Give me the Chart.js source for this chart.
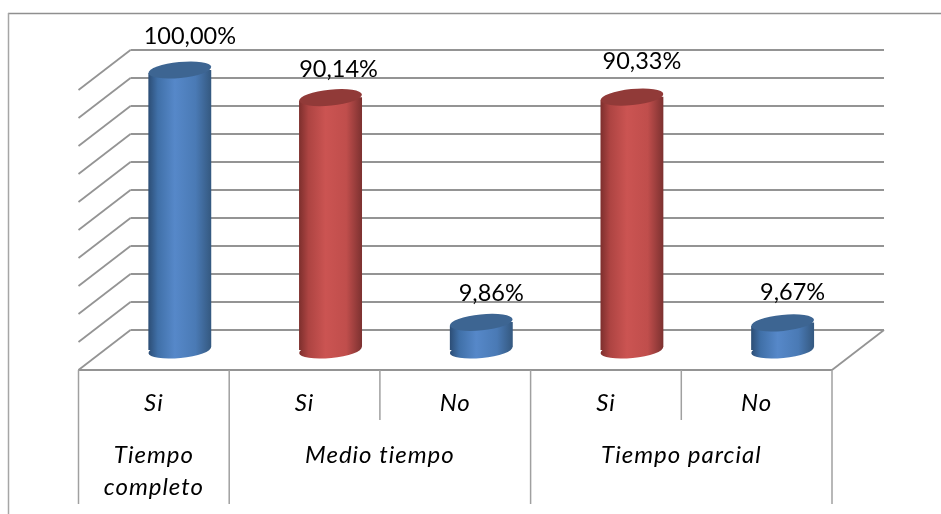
<!DOCTYPE html>
<html>
<head>
<meta charset="utf-8">
<style>
  html, body { margin: 0; background: #fff; }
  #wrap { width: 941px; height: 514px; }
</style>
<script src="https://cdn.jsdelivr.net/npm/chart.js@4"></script>
</head>
<body>
<div id="wrap"><canvas id="chart" width="941" height="514"></canvas></div>
<script>
const categories = ['Si', 'Si', 'No', 'Si', 'No'];
const groupLabels = [['Tiempo', 'completo'], ['Medio tiempo'], ['Tiempo parcial']];
const groupSpans = [1, 2, 2];
const values = [100.00, 90.14, 9.86, 90.33, 9.67];
const valueLabels = ['100,00%', '90,14%', '9,86%', '90,33%', '9,67%'];
const barPalette = ['blue', 'red', 'blue', 'red', 'blue'];
const yTicks = [0, 10, 20, 30, 40, 50, 60, 70, 80, 90, 100];

// the bars stand halfway between the front edge of the floor and the back wall
const DEPTH_X = 26, DEPTH_Y = 20;
const GRID = '#949494';
const FONT = 'Lato, "Open Sans", sans-serif';
const BAR_WIDTH = 63;
const CAP_RY = 8, CAP_TILT = -0.1;
// hand placed labels in the original
const labelShift = [[10, -26], [8, -21], [10, -21], [10, -28], [10, -23]];

const colors = {
  blue: { stops: ['#2c4d75', '#4070a8', '#5688c9', '#4a7ab5', '#34587f'], top: '#3d6592' },
  red: { stops: ['#7d2f2d', '#ad4442', '#cb5452', '#c04e4c', '#7c3130'], top: '#913a38' }
};
const stopAt = [0, 0.15, 0.42, 0.75, 1];

function sideGradient(ctx, cx, c) {
  const gr = ctx.createLinearGradient(cx - BAR_WIDTH / 2, 0, cx + BAR_WIDTH / 2, 0);
  c.stops.forEach((s, i) => gr.addColorStop(stopAt[i], s));
  return gr;
}

function line(ctx, x1, y1, x2, y2) {
  ctx.beginPath();
  ctx.moveTo(x1, y1);
  ctx.lineTo(x2, y2);
  ctx.stroke();
}

const walls = {
  id: 'walls',
  beforeDatasetsDraw(chart) {
    const { ctx, chartArea: a, scales: { y } } = chart;
    ctx.save();
    ctx.lineWidth = 1.5;
    // outer frame
    ctx.strokeStyle = '#8f8f8f';
    line(ctx, 8, 13.5, 941, 13.5);
    ctx.strokeStyle = '#a6a6a6';
    line(ctx, 8.5, 13, 8.5, 514);
    ctx.lineWidth = 1.8;
    ctx.strokeStyle = GRID;
    yTicks.forEach(t => {
      const py = y.getPixelForValue(t);
      line(ctx, a.left - DEPTH_X, py + DEPTH_Y, a.left + DEPTH_X, py - DEPTH_Y);
      line(ctx, a.left + DEPTH_X, py - DEPTH_Y, a.right + DEPTH_X, py - DEPTH_Y);
    });
    // floor
    const py0 = y.getPixelForValue(0) + DEPTH_Y;
    line(ctx, a.left - DEPTH_X, py0, a.right - DEPTH_X, py0);
    line(ctx, a.right - DEPTH_X, py0, a.right + DEPTH_X, py0 - 2 * DEPTH_Y);

    // bottom caps go under the bars
    chart.getDatasetMeta(0).data.forEach((bar, i) => {
      ctx.fillStyle = sideGradient(ctx, bar.x, colors[barPalette[i]]);
      ctx.beginPath();
      ctx.ellipse(bar.x, bar.base, bar.width / 2, CAP_RY, CAP_TILT, 0, Math.PI * 2);
      ctx.fill();
    });
    ctx.restore();
  }
};

const cylinders = {
  id: 'cylinders',
  // cut the square bar corners along the tilt of the caps
  beforeDatasetDraw(chart, args) {
    const { ctx } = chart;
    const lift = BAR_WIDTH / 2 * Math.sin(-CAP_TILT);
    ctx.save();
    ctx.beginPath();
    chart.getDatasetMeta(args.index).data.forEach(bar => {
      const l = bar.x - bar.width / 2, r = bar.x + bar.width / 2;
      ctx.moveTo(l, bar.y + lift);
      ctx.lineTo(r, bar.y - lift);
      ctx.lineTo(r, bar.base - lift);
      ctx.lineTo(l, bar.base + lift);
      ctx.closePath();
    });
    ctx.clip();
  },
  afterDatasetDraw(chart) {
    chart.ctx.restore();
  },
  afterDatasetsDraw(chart) {
    const { ctx } = chart;
    chart.getDatasetMeta(0).data.forEach((bar, i) => {
      ctx.fillStyle = colors[barPalette[i]].top;
      ctx.beginPath();
      ctx.ellipse(bar.x, bar.y, bar.width / 2, CAP_RY, CAP_TILT, 0, Math.PI * 2);
      ctx.fill();
    });
  }
};

const texts = {
  id: 'texts',
  afterDraw(chart) {
    const { ctx, chartArea: a, scales: { x, y } } = chart;
    const bars = chart.getDatasetMeta(0).data;
    const band = (a.right - a.left) / categories.length;
    const floor = y.getPixelForValue(0) + DEPTH_Y;
    const front = i => a.left - DEPTH_X + band * i;
    ctx.save();
    ctx.textAlign = 'center';
    ctx.textBaseline = 'alphabetic';
    ctx.fillStyle = '#000';

    // value labels
    ctx.font = '23.5px ' + FONT;
    values.forEach((v, i) => {
      ctx.fillText(valueLabels[i], bars[i].x + labelShift[i][0], bars[i].y + labelShift[i][1]);
    });

    // level one of the category axis
    ctx.font = 'italic 24px ' + FONT;
    ctx.letterSpacing = '1px';
    categories.forEach((c, i) => {
      ctx.fillText(c, x.getPixelForValue(i) - DEPTH_X, floor + 41);
    });

    // level two
    let start = 0;
    groupLabels.forEach((g, k) => {
      const mid = front(start + groupSpans[k] / 2);
      g.forEach((t, j) => ctx.fillText(t, mid, floor + 93 + j * 32));
      start += groupSpans[k];
    });

    // dividers under the floor
    ctx.strokeStyle = '#a0a0a0';
    ctx.lineWidth = 1.5;
    start = 0;
    line(ctx, front(0), floor, front(0), floor + 134);
    groupSpans.forEach(s => {
      for (let i = 1; i < s; i++) line(ctx, front(start + i), floor, front(start + i), floor + 50);
      start += s;
      line(ctx, front(start), floor, front(start), floor + 134);
    });
    ctx.restore();
  }
};

new Chart(document.getElementById('chart'), {
  type: 'bar',
  data: {
    labels: categories,
    datasets: [{
      data: values,
      barThickness: BAR_WIDTH,
      backgroundColor(context) {
        const c = colors[barPalette[context.dataIndex]] || colors.blue;
        const cx = context.chart.scales.x ? context.chart.scales.x.getPixelForValue(context.dataIndex) : NaN;
        // chart.js also resolves this once before the scales are ready
        if (!Number.isFinite(cx)) return c.stops[2];
        return sideGradient(context.chart.ctx, cx, c);
      }
    }]
  },
  options: {
    responsive: false,
    animation: false,
    // puts the chart area on the plane of the bars
    layout: { padding: { left: 104.5, right: 83, top: 70, bottom: 164 } },
    plugins: { legend: { display: false }, tooltip: { enabled: false } },
    scales: {
      x: { display: false },
      y: { display: false, min: 0, max: 100, ticks: { stepSize: 10 } }
    }
  },
  plugins: [walls, cylinders, texts]
});
</script>
</body>
</html>
